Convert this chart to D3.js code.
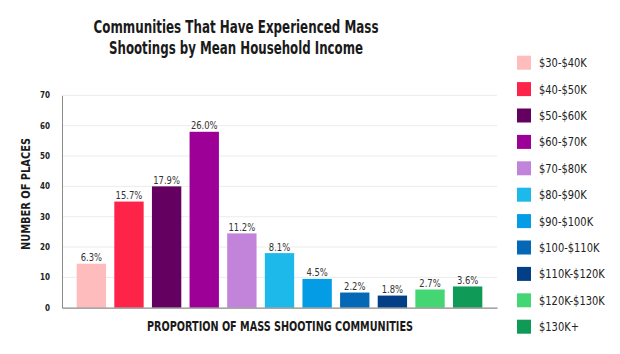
<!DOCTYPE html>
<html>
<head>
<meta charset="utf-8">
<script src="https://cdn.jsdelivr.net/npm/d3@7"></script>
<style>
html,body{margin:0;padding:0;background:#fff;}
svg{display:block;}
</style>
</head>
<body>
<svg id="chart" width="620" height="354"></svg>
<script>
const categories = ["$30-$40K","$40-$50K","$50-$60K","$60-$70K","$70-$80K","$80-$90K","$90-$100K","$100-$110K","$110K-$120K","$120K-$130K","$130K+"];
const places = [14.5, 35, 40, 58, 24.5, 18, 9.5, 5, 4, 6, 7];
const percentLabels = ["6.3%","15.7%","17.9%","26.0%","11.2%","8.1%","4.5%","2.2%","1.8%","2.7%","3.6%"];
const colors = ["#ffbcbd","#fe2449","#640060","#9c0096","#c284da","#1db9ea","#049ce4","#0468b6","#033f86","#45d674","#0f9b57"];
const yTicks = [0,10,20,30,40,50,60,70];
const titleLines = ["Communities That Have Experienced Mass","Shootings by Mean Household Income"];
const xTitle = "PROPORTION OF MASS SHOOTING COMMUNITIES";
const yTitle = "NUMBER OF PLACES";

const FONT = "'DejaVu Sans Condensed','Liberation Sans Narrow','Roboto',sans-serif";
const svg = d3.select("#chart");

// condense a text element horizontally to a target width
function squeeze(sel, w) {
  sel.attr("textLength", w).attr("lengthAdjust", "spacingAndGlyphs");
}
function squeezeBy(sel, k) {
  sel.each(function(){
    const n = this.getComputedTextLength();
    d3.select(this).attr("textLength", n*k).attr("lengthAdjust", "spacingAndGlyphs");
  });
}

const x0 = 62, x1 = 497, yBottom = 307.7, yTop = 95.4;
const x = d3.scaleBand().domain(categories).range([x0, x1]).paddingInner(0.22).paddingOuter(0.39);
const y = d3.scaleLinear().domain([0,70]).range([yBottom, yTop]);

// gridlines
svg.append("g").selectAll("line").data(yTicks.filter(d=>d>0)).join("line")
  .attr("x1", x0).attr("x2", x1)
  .attr("y1", d=>y(d)).attr("y2", d=>y(d))
  .attr("stroke", "#ececec").attr("stroke-width", 1);

// y axis
const yAxis = d3.axisLeft(y).tickValues(yTicks).tickSize(0).tickPadding(12);
const gy = svg.append("g").attr("transform", `translate(${x0},0)`).call(yAxis);
gy.select(".domain").attr("stroke", "#8a8a8a").attr("stroke-width", 1);
gy.selectAll("text").attr("font-family", FONT).attr("font-weight", "bold").attr("font-size", 8).attr("fill", "#222");

// bars
svg.append("g").selectAll("rect").data(categories).join("rect")
  .attr("x", d=>x(d)).attr("width", x.bandwidth())
  .attr("y", (d,i)=>y(places[i])).attr("height", (d,i)=>y(0)-y(places[i]))
  .attr("fill", (d,i)=>colors[i]);

// x axis baseline
const xAxis = d3.axisBottom(x).tickSize(0).tickFormat("");
const gx = svg.append("g").attr("transform", `translate(0,${yBottom})`).call(xAxis);
gx.select(".domain").attr("stroke", "#8a8a8a").attr("stroke-width", 1.3);

// bar labels
svg.append("g").selectAll("text").data(categories).join("text")
  .attr("x", d=>x(d)+x.bandwidth()/2)
  .attr("y", (d,i)=>y(places[i])-2.5)
  .attr("text-anchor", "middle")
  .attr("font-family", FONT).attr("font-size", 11).attr("fill", "#333")
  .text((d,i)=>percentLabels[i])
  .call(squeezeBy, 0.85);

// title
const titleW = [285, 254];
svg.append("g").selectAll("text").data(titleLines).join("text")
  .attr("x", 236).attr("y", (d,i)=>33 + i*20.5)
  .attr("text-anchor", "middle")
  .attr("font-family", FONT).attr("font-weight", "bold").attr("font-size", 17.5).attr("fill", "#1a1a1a")
  .text(d=>d)
  .each(function(d,i){ squeeze(d3.select(this), titleW[i]); });

// axis titles
svg.append("text").attr("x", 280).attr("y", 330.5)
  .attr("text-anchor", "middle")
  .attr("font-family", FONT).attr("font-weight", "bold").attr("font-size", 13.5).attr("fill", "#1a1a1a")
  .text(xTitle).call(squeeze, 266);
svg.append("text").attr("transform", "translate(29.5,194) rotate(-90)")
  .attr("text-anchor", "middle")
  .attr("font-family", FONT).attr("font-weight", "bold").attr("font-size", 13).attr("fill", "#1a1a1a")
  .text(yTitle).call(squeeze, 112);

// legend
const leg = svg.append("g").selectAll("g").data(categories).join("g")
  .attr("transform", (d,i)=>`translate(517,${62.7 + i*26.4})`);
leg.append("rect").attr("x", 0).attr("y", -7).attr("width", 14).attr("height", 14)
  .attr("fill", (d,i)=>colors[i]);
leg.append("text").attr("x", 22).attr("y", 0).attr("dy", "0.36em")
  .attr("font-family", FONT).attr("font-size", 12.5).attr("fill", "#222")
  .text(d=>d)
  .call(squeezeBy, 0.88);
</script>
</body>
</html>
